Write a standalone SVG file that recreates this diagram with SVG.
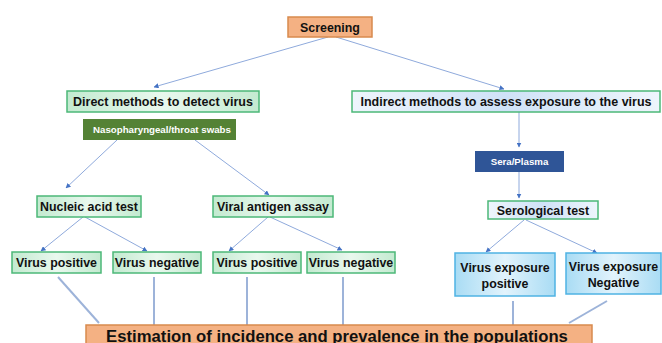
<svg xmlns="http://www.w3.org/2000/svg" width="662" height="343" viewBox="0 0 662 343">
<defs>
<linearGradient id="gGreen" x1="0" y1="0" x2="1" y2="0">
<stop offset="0" stop-color="#c3ead0"/>
<stop offset="0.5" stop-color="#e9f8ee"/>
<stop offset="1" stop-color="#c3ead0"/>
</linearGradient>
<linearGradient id="gBlue" x1="0" y1="0" x2="1" y2="0">
<stop offset="0" stop-color="#a9dcf4"/>
<stop offset="0.5" stop-color="#e2f3fc"/>
<stop offset="1" stop-color="#a9dcf4"/>
</linearGradient>
<linearGradient id="gLightBlue" x1="0" y1="0" x2="1" y2="0">
<stop offset="0" stop-color="#eef5fc"/>
<stop offset="0.5" stop-color="#cfe2f7"/>
<stop offset="1" stop-color="#eef5fc"/>
</linearGradient>
<marker id="arr" viewBox="0 0 10 10" refX="9" refY="5" markerWidth="5" markerHeight="5" orient="auto" markerUnits="userSpaceOnUse">
<path d="M0,0 L10,5 L0,10 z" fill="#4472c4"/>
</marker>
<style>
text{font-family:"Liberation Sans",Arial,sans-serif;font-weight:bold;text-anchor:middle;fill:#111}
.g{fill:url(#gGreen);stroke:#4cb878;stroke-width:1.5}
.b{fill:url(#gBlue);stroke:#4fb3e3;stroke-width:1.5}
.lb{fill:url(#gLightBlue);stroke:#4cb878;stroke-width:1.5}
.o{fill:#f4b183;stroke:#d88a4e;stroke-width:1.5}
.t{font-size:12.4px}
.s{font-size:9.7px;fill:#fff}
.a{stroke:#8faadc;stroke-width:1;fill:none;marker-end:url(#arr)}
.c{stroke:#9db3d9;stroke-width:2;fill:none}
</style>
</defs>
<rect width="662" height="343" fill="#fff"/>
<g id="connectors">
<line class="a" x1="328" y1="37" x2="154" y2="87"/>
<line class="a" x1="336" y1="37" x2="504" y2="89"/>
<line class="a" x1="519" y1="112" x2="519" y2="147"/>
<line class="a" x1="519" y1="172" x2="519" y2="198"/>
<line class="a" x1="117" y1="140" x2="66" y2="188"/>
<line class="a" x1="195" y1="140" x2="269" y2="195"/>
<line class="a" x1="83" y1="217" x2="41" y2="251"/>
<line class="a" x1="85" y1="217" x2="147" y2="251"/>
<line class="a" x1="268" y1="217" x2="229" y2="251"/>
<line class="a" x1="270" y1="217" x2="342" y2="250"/>
<line class="a" x1="524" y1="220" x2="486" y2="252"/>
<line class="a" x1="526" y1="220" x2="597" y2="253"/>
<line class="c" x1="58" y1="277" x2="99" y2="323"/>
<line class="c" x1="154" y1="277" x2="154" y2="325"/>
<line class="c" x1="247" y1="277" x2="247" y2="325"/>
<line class="c" x1="343" y1="277" x2="343" y2="325"/>
<line class="c" x1="513" y1="301" x2="513" y2="325"/>
<line class="c" x1="607" y1="301" x2="569" y2="323"/>
</g>
<g id="screening"><rect class="o" x="288" y="17" width="84" height="20"/><text x="330" y="31.5" style="font-size:12.4px">Screening</text></g>
<g id="direct"><rect class="g" x="67" y="91" width="192" height="21"/><text x="163" y="106" style="font-size:12.5px">Direct methods to detect virus</text></g>
<g id="swabs"><rect x="83" y="119" width="153" height="21" fill="#548235"/><text class="s" x="162" y="133">Nasopharyngeal/throat swabs</text></g>
<g id="indirect"><rect class="lb" x="352" y="91" width="308" height="21"/><text x="506" y="106" style="font-size:12.5px">Indirect methods to assess exposure to the virus</text></g>
<g id="sera"><rect x="475" y="151" width="89" height="21" fill="#2f5597"/><text class="s" x="519.5" y="165">Sera/Plasma</text></g>
<g id="nucleic"><rect class="g" x="37" y="196" width="104" height="21"/><text class="t" x="89" y="211">Nucleic acid test</text></g>
<g id="antigen"><rect class="g" x="213" y="196" width="120" height="21"/><text class="t" x="273" y="211">Viral antigen assay</text></g>
<g id="serological"><rect class="lb" x="488" y="201" width="110" height="18"/><text class="t" x="543" y="215">Serological test</text></g>
<g id="pos1"><rect class="g" x="12" y="252" width="89" height="21"/><text class="t" x="56.5" y="267">Virus positive</text></g>
<g id="neg1"><rect class="g" x="113" y="252" width="88" height="21"/><text class="t" x="157" y="267">Virus negative</text></g>
<g id="pos2"><rect class="g" x="213" y="252" width="88" height="21"/><text class="t" x="257" y="267">Virus positive</text></g>
<g id="neg2"><rect class="g" x="307" y="252" width="88" height="21"/><text class="t" x="351" y="267">Virus negative</text></g>
<g id="exppos"><rect class="b" x="455" y="253" width="100" height="43"/><text class="t" x="505" y="272">Virus exposure</text><text class="t" x="505" y="288">positive</text></g>
<g id="expneg"><rect class="b" x="566" y="253" width="95" height="41"/><text class="t" x="613.5" y="271">Virus exposure</text><text class="t" x="613.5" y="287">Negative</text></g>
<g id="estimation"><rect class="o" x="86" y="325" width="506" height="22"/><text x="337" y="342" style="font-size:16.7px">Estimation of incidence and prevalence in the populations</text></g>
</svg>
